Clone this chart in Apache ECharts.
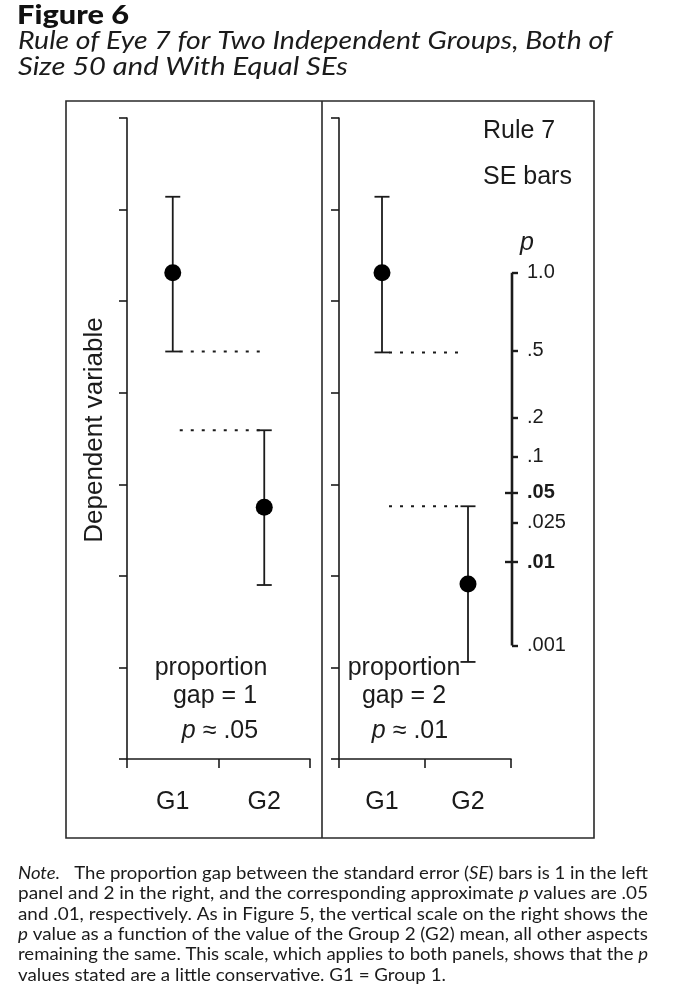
<!DOCTYPE html>
<html><head><meta charset="utf-8">
<script src="https://cdn.jsdelivr.net/npm/echarts@6/dist/echarts.min.js"></script>
<style>html,body{margin:0;padding:0;background:#fff}#c{width:684px;height:1002px}</style>
</head><body><div id="c"></div>
<script>
// ---------- data ----------
const groups = ['G1', 'G2'];
const leftMean = [5.31, 2.75];
const leftLow = [4.45, 1.90];
const leftHigh = [6.14, 3.59];
const rightMean = [5.31, 1.91];
const rightLow = [4.44, 1.06];
const rightHigh = [6.14, 2.76];
const yMin = 0, yMax = 7, yStep = 1;
const pLabels = ['1.0', '.5', '.2', '.1', '.05', '.025', '.01', '.001'];
const pValues = [5.31, 4.46, 3.73, 3.30, 2.91, 2.58, 2.15, 1.24];
const pBold = ['.05', '.01'];

// ---------- style ----------
const INK = '#1b1b1b';
const SANS = '"Liberation Sans", Arial, sans-serif';
const SERIF_T = 'Lato, "Open Sans", sans-serif';

const mctx = document.createElement('canvas').getContext('2d');
function tw(text, font) { mctx.font = font; return mctx.measureText(text).width; }

const chart = echarts.init(document.getElementById('c'), null, {renderer: 'canvas'});

function errRender(params, api) {
  const x = api.value(0);
  const lo = api.coord([x, api.value(1)]);
  const hi = api.coord([x, api.value(2)]);
  const cap = 7.5;
  const st = {stroke: INK, lineWidth: 1.8};
  return {type: 'group', children: [
    {type: 'line', shape: {x1: lo[0], y1: lo[1], x2: hi[0], y2: hi[1]}, style: st},
    {type: 'line', shape: {x1: lo[0] - cap, y1: lo[1], x2: lo[0] + cap, y2: lo[1]}, style: st},
    {type: 'line', shape: {x1: hi[0] - cap, y1: hi[1], x2: hi[0] + cap, y2: hi[1]}, style: st}
  ]};
}
function dotRender(params, api) {
  const a = api.coord([api.value(0), api.value(2)]);
  const b = api.coord([api.value(1), api.value(2)]);
  return {type: 'line', shape: {x1: a[0] + 7, y1: a[1], x2: b[0] - 4, y2: b[1]},
    style: {stroke: INK, lineWidth: 2, lineDash: [3, 8]}};
}
function pLineRender(params, api) {
  const a = api.coord([api.value(0), api.value(1)]);
  const b = api.coord([api.value(0), api.value(2)]);
  return {type: 'group', children: [
    {type: 'line', shape: {x1: a[0], y1: a[1], x2: b[0], y2: b[1]}, style: {stroke: INK, lineWidth: 2.6}},
    {type: 'text', x: b[0] + 15, y: b[1] - 30, style: {text: 'p', font: 'italic 25px ' + SANS, fill: INK, align: 'center', verticalAlign: 'middle'}}
  ]};
}

function panelSeries(idx, mean, low, high) {
  return [
    {type: 'custom', xAxisIndex: idx, yAxisIndex: idx, renderItem: dotRender, silent: true,
      data: [[0, 1, low[0]], [0, 1, high[1]]], z: 1},
    {type: 'custom', xAxisIndex: idx, yAxisIndex: idx, renderItem: errRender, silent: true,
      data: groups.map((g, i) => [i, low[i], high[i]]), z: 2},
    {type: 'scatter', xAxisIndex: idx, yAxisIndex: idx, symbolSize: 17, silent: true,
      itemStyle: {color: '#000', opacity: 1}, data: groups.map((g, i) => [i, mean[i]]), z: 3}
  ];
}

function catAxis(gi) {
  return {gridIndex: gi, type: 'category', data: groups, boundaryGap: true,
    axisLine: {lineStyle: {color: INK, width: 1.6}},
    axisTick: {show: true, length: 9, lineStyle: {color: INK, width: 1.6}},
    axisLabel: {fontSize: 25, color: INK, fontFamily: SANS, margin: 31}};
}
function valAxis(gi) {
  return {gridIndex: gi, type: 'value', min: yMin, max: yMax, interval: yStep,
    axisLine: {show: true, lineStyle: {color: INK, width: 1.6}},
    axisTick: {show: true, length: 8, lineStyle: {color: INK, width: 1.6}},
    axisLabel: {show: false}, splitLine: {show: false}};
}

function pFmt(v) {
  const i = pValues.findIndex(p => Math.abs(p - v) < 1e-6);
  if (i < 0) return '';
  const lab = pLabels[i];
  return pBold.includes(lab) ? '{b|' + lab + '}' : '{n|' + lab + '}';
}

// ---------- text blocks ----------
const graphics = [];
function addText(segs, x, y, size, target, extra, boldW) {
  let text = '', width = 0;
  const rich = {};
  const bw = boldW || 'bold';
  segs.forEach(([t, k]) => {
    const weight = k === 'b' ? bw + ' ' : '';
    const style = k === 'i' ? 'italic ' : '';
    width += tw(t, style + weight + size + 'px ' + SERIF_T);
    text += '{' + k + '|' + t + '}';
  });
  rich.n = {fontSize: size, fontFamily: SERIF_T, fill: INK, color: INK};
  rich.i = {fontSize: size, fontFamily: SERIF_T, fontStyle: 'italic', fill: INK, color: INK};
  rich.b = {fontSize: size, fontFamily: SERIF_T, fontWeight: bw, fill: '#111', color: '#111'};
  const sx = target ? target / width : (extra || 1);
  graphics.push({type: 'text', x: x, y: y, scaleX: sx, scaleY: 1, silent: true,
    style: {text: text, rich: rich, align: 'left', verticalAlign: 'middle', fill: INK}});
  return sx;
}

addText([['Figure 6', 'b']], 17, 15, 27, 112, 0, 900);
addText([['Rule of Eye 7 for Two Independent Groups, Both of', 'i']], 18, 41, 25, 594);
addText([['Size 50 and With Equal SEs', 'i']], 18, 67, 25, 330);

const noteLines = [
  [['Note.', 'i'], ['   The proportion gap between the standard error (', 'n'], ['SE', 'i'], [') bars is 1 in the left', 'n']],
  [['panel and 2 in the right, and the corresponding approximate ', 'n'], ['p', 'i'], [' values are .05', 'n']],
  [['and .01, respectively. As in Figure 5, the vertical scale on the right shows the', 'n']],
  [['p', 'i'], [' value as a function of the value of the Group 2 (G2) mean, all other aspects', 'n']],
  [['remaining the same. This scale, which applies to both panels, shows that the ', 'n'], ['p', 'i']],
  [['values stated are a little conservative. G1 = Group 1.', 'n']]
];
let sxSum = 0;
noteLines.forEach((segs, i) => {
  if (i < 5) sxSum += addText(segs, 18, 873 + i * 20.4, 18, 630);
  else addText(segs, 18, 873 + i * 20.4, 18, 0, sxSum / 5);
});

function sansText(t, x, y, size, align) {
  graphics.push({type: 'text', x: x, y: y, silent: true,
    style: {text: t, font: size + 'px ' + SANS, fill: INK, align: align || 'center', verticalAlign: 'middle',
      rich: {i: {fontStyle: 'italic', fontSize: size, fontFamily: SANS, fill: INK}, n: {fontSize: size, fontFamily: SANS, fill: INK}}}});
}
sansText('Rule 7', 483, 131, 25, 'left');
sansText('SE bars', 483, 177, 25, 'left');
sansText('proportion', 211, 668, 25);
sansText('gap = 1', 215, 696, 25);
sansText('{i|p} {n|\u2248 .05}', 220, 731, 25);
sansText('proportion', 404, 668, 25);
sansText('gap = 2', 404, 696, 25);
sansText('{i|p} {n|\u2248 .01}', 410, 731, 25);

graphics.push({type: 'text', x: 95, y: 430, rotation: Math.PI / 2, silent: true,
  style: {text: 'Dependent variable', font: '26px ' + SANS, fill: INK, align: 'center', verticalAlign: 'middle'}});

graphics.push({type: 'rect', shape: {x: 66, y: 101, width: 528, height: 737}, silent: true,
  style: {fill: 'none', stroke: '#2a2a2a', lineWidth: 1.6}});
graphics.push({type: 'line', shape: {x1: 322, y1: 101, x2: 322, y2: 838}, silent: true,
  style: {stroke: '#2a2a2a', lineWidth: 1.6}});

const option = {
  animation: false,
  backgroundColor: '#fff',
  grid: [
    {left: 127, right: 374, top: 118, bottom: 243},
    {left: 339, right: 173, top: 118, bottom: 243},
    {left: 512, right: 144, top: 118, bottom: 243}
  ],
  xAxis: [catAxis(0), catAxis(1), {gridIndex: 2, type: 'value', min: 0, max: 1, show: false}],
  yAxis: [valAxis(0), valAxis(1),
    {gridIndex: 2, type: 'value', min: yMin, max: yMax, position: 'left',
      axisLine: {show: false}, splitLine: {show: false},
      axisTick: {show: true, inside: true, length: 6, customValues: pValues, lineStyle: {color: INK, width: 2.4}},
      axisLabel: {show: true, inside: true, margin: 15, customValues: pValues, formatter: pFmt,
        rich: {n: {fontSize: 20, fontFamily: SANS, color: INK}, b: {fontSize: 20, fontFamily: SANS, color: INK, fontWeight: 'bold'}}}},
    {gridIndex: 2, type: 'value', min: yMin, max: yMax, position: 'left',
      axisLine: {show: false}, splitLine: {show: false}, axisLabel: {show: false},
      axisTick: {show: true, inside: false, length: 7, lineStyle: {color: INK, width: 2.4},
        customValues: pValues.filter((v, i) => pBold.includes(pLabels[i]))}}
  ],
  series: [
    ...panelSeries(0, leftMean, leftLow, leftHigh),
    ...panelSeries(1, rightMean, rightLow, rightHigh),
    {type: 'custom', xAxisIndex: 2, yAxisIndex: 2, renderItem: pLineRender, silent: true,
      data: [[0, pValues[pValues.length - 1], pValues[0]]]}
  ],
  graphic: graphics
};
chart.setOption(option);
</script>
</body></html>
